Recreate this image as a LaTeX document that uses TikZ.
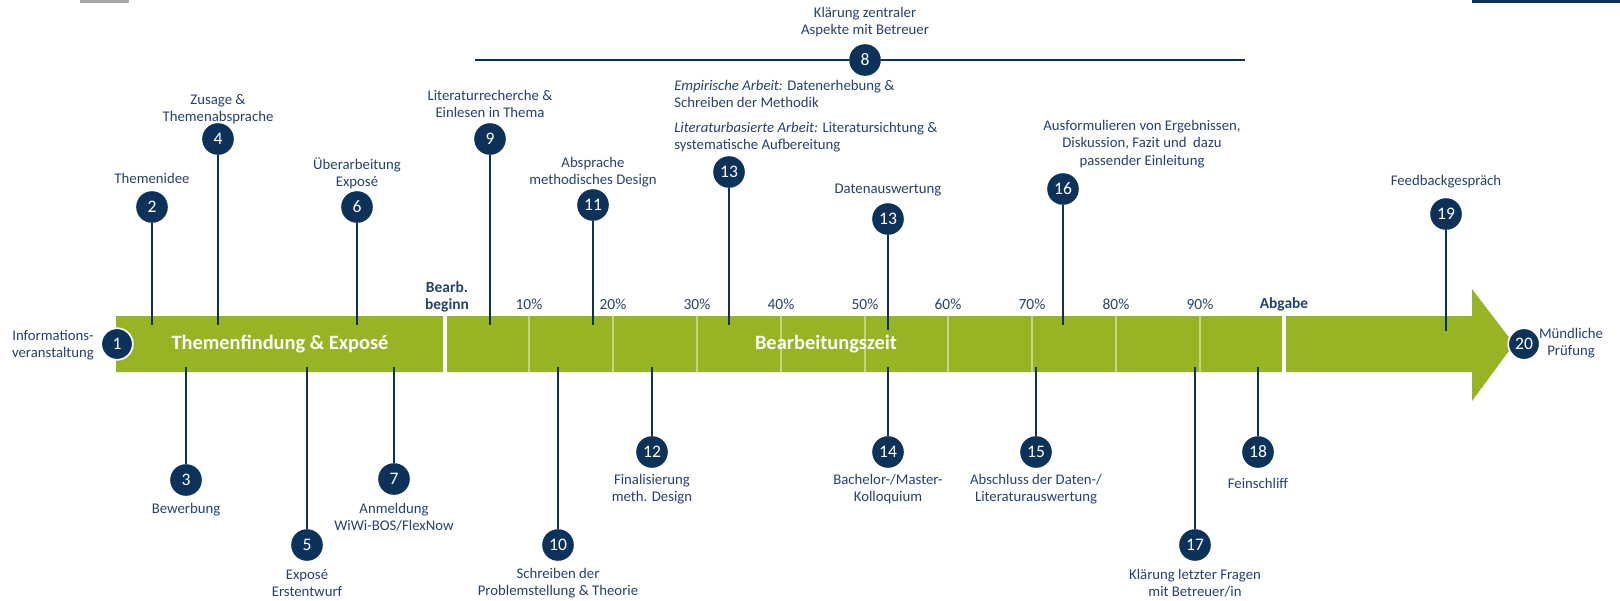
\documentclass[tikz,border=0pt]{standalone}
\usepackage{fontspec}
\setmainfont{Carlito}
\definecolor{barGreen}{RGB}{150,180,35}
\definecolor{navy}{RGB}{12,50,90}
\definecolor{txtBlue}{RGB}{38,66,108}
\definecolor{tickGreen}{RGB}{196,214,130}

\begin{document}
\begin{tikzpicture}[x=0.025cm,y=-0.025cm,
	num/.style={circle, fill=navy, text=white, minimum size=0.79cm, inner sep=0pt, font=\fontsize{12.5}{14}\selectfont},
	endnum/.style={num, draw=white, line width=1.2pt},
	lbl/.style={text=txtBlue, align=center, inner sep=0pt, font=\fontsize{10.5}{12.4}\selectfont},
	pct/.style={text=txtBlue, inner sep=0pt, font=\fontsize{11}{13}\selectfont},
	bold/.style={text=txtBlue, align=center, inner sep=0pt, font=\fontsize{11}{12.6}\selectfont\bfseries},
	phase/.style={text=white, inner sep=0pt, font=\fontsize{14.5}{17}\selectfont\bfseries},
	stem/.style={draw=navy, line width=1.4pt}]
	\useasboundingbox (0,0) rectangle (1620,600);

	% bits cut off at the top edge
	\fill[gray!70] (80,0) rectangle (129,2.5);
	\fill[navy] (1472,0) rectangle (1620,2.5);

	% the green arrow
	\fill[barGreen] (116,316) -- (1472,316) -- (1472,289) -- (1514,344) -- (1472,401) -- (1472,372) -- (116,372) -- cycle;
	\draw[tickGreen, line width=0.9pt] (529,316) -- (529,372);
	\draw[tickGreen, line width=0.9pt] (613,316) -- (613,372);
	\draw[tickGreen, line width=0.9pt] (697,316) -- (697,372);
	\draw[tickGreen, line width=0.9pt] (781,316) -- (781,372);
	\draw[tickGreen, line width=0.9pt] (865,316) -- (865,372);
	\draw[tickGreen, line width=0.9pt] (948,316) -- (948,372);
	\draw[tickGreen, line width=0.9pt] (1032,316) -- (1032,372);
	\draw[tickGreen, line width=0.9pt] (1116,316) -- (1116,372);
	\draw[tickGreen, line width=0.9pt] (1200,316) -- (1200,372);
	\draw[white, line width=3pt] (445,314) -- (445,374);
	\draw[white, line width=3pt] (1284,314) -- (1284,374);

	\node[phase](ph1) at (280,344) {Themenfindung \& Exposé};
	\node[phase](ph2) at (826,344) {Bearbeitungszeit};

	\node[bold](start) at (447,297) {Bearb.\\beginn};
	\node[bold](end) at (1284,304) {Abgabe};
	\node[pct](p10) at (529,304) {10\%};
	\node[pct](p20) at (613,304) {20\%};
	\node[pct](p30) at (697,304) {30\%};
	\node[pct](p40) at (781,304) {40\%};
	\node[pct](p50) at (865,304) {50\%};
	\node[pct](p60) at (948,304) {60\%};
	\node[pct](p70) at (1032,304) {70\%};
	\node[pct](p80) at (1116,304) {80\%};
	\node[pct](p90) at (1200,304) {90\%};

	% numbered steps
	\node[endnum](c1) at (117,344) {1};
	\node[num](c2) at (152,207) {2};
	\node[num](c3) at (186,480) {3};
	\node[num](c4) at (218,139) {4};
	\node[num](c5) at (307,545) {5};
	\node[num](c6) at (357,207) {6};
	\node[num](c7) at (394,479) {7};
	\node[num](c8) at (865,60) {8};
	\node[num](c9) at (490,139) {9};
	\node[num](c10) at (558,545) {10};
	\node[num](c11) at (593,205) {11};
	\node[num](c12) at (652,452) {12};
	\node[num](c13) at (729,172) {13};
	\node[num](c13b) at (888,219) {13};
	\node[num](c14) at (888,452) {14};
	\node[num](c15) at (1036,452) {15};
	\node[num](c16) at (1063,189) {16};
	\node[num](c17) at (1195,545) {17};
	\node[num](c18) at (1258,452) {18};
	\node[num](c19) at (1446,214) {19};
	\node[endnum](c20) at (1524,344) {20};

	% stem ends on the arrow
	\coordinate(s2) at (152,325);
	\coordinate(s3) at (186,367);
	\coordinate(s4) at (218,325);
	\coordinate(s5) at (307,367);
	\coordinate(s6) at (357,325);
	\coordinate(s7) at (394,367);
	\coordinate(s8a) at (475,60);
	\coordinate(s8b) at (1245,60);
	\coordinate(s9) at (490,325);
	\coordinate(s10) at (558,367);
	\coordinate(s11) at (593,325);
	\coordinate(s12) at (652,367);
	\coordinate(s13) at (729,325);
	\coordinate(s13b) at (888,330);
	\coordinate(s14) at (888,367);
	\coordinate(s15) at (1036,367);
	\coordinate(s16) at (1063,325);
	\coordinate(s17) at (1195,367);
	\coordinate(s18) at (1258,367);
	\coordinate(s19) at (1446,331);

	\draw[stem](c2) -- (s2);
	\draw[stem](c3) -- (s3);
	\draw[stem](c4) -- (s4);
	\draw[stem](c5) -- (s5);
	\draw[stem](c6) -- (s6);
	\draw[stem](c7) -- (s7);
	\draw[stem](c8) -- (s8a);
	\draw[stem](c8) -- (s8b);
	\draw[stem](c9) -- (s9);
	\draw[stem](c10) -- (s10);
	\draw[stem](c11) -- (s11);
	\draw[stem](c12) -- (s12);
	\draw[stem](c13) -- (s13);
	\draw[stem](c13b) -- (s13b);
	\draw[stem](c14) -- (s14);
	\draw[stem](c15) -- (s15);
	\draw[stem](c16) -- (s16);
	\draw[stem](c17) -- (s17);
	\draw[stem](c18) -- (s18);
	\draw[stem](c19) -- (s19);

	% step texts
	\node[lbl](l1) at (53,345) {Informations-\\veranstaltung};
	\node[lbl](l2) at (152,178) {Themenidee};
	\node[lbl](l3) at (186,510) {Bewerbung};
	\node[lbl](l4) at (218,109) {Zusage \&\\Themenabsprache};
	\node[lbl](l5) at (307,583) {Exposé\\Erstentwurf};
	\node[lbl](l6) at (357,173) {Überarbeitung\\Exposé};
	\node[lbl](l7) at (394,517) {Anmeldung\\WiWi-BOS/FlexNow};
	\node[lbl](l8) at (865,22) {Klärung zentraler\\Aspekte mit Betreuer};
	\node[lbl](l9) at (490,104) {Literaturrecherche \&\\Einlesen in Thema};
	\node[lbl](l10) at (558,583) {Schreiben der\\Problemstellung \& Theorie};
	\node[lbl](l11) at (593,172) {Absprache\\methodisches Design};
	\node[lbl](l12) at (652,489) {Finalisierung\\meth. Design};
	\node[lbl, align=left, anchor=west](l13) at (674,116) {\textit{Empirische Arbeit:} Datenerhebung \&\\Schreiben der Methodik\\[5pt]\textit{Literaturbasierte Arbeit:} Literatursichtung \&\\systematische Aufbereitung};
	\node[lbl](l13b) at (888,190) {Datenauswertung};
	\node[lbl](l14) at (888,489) {Bachelor-/Master-\\Kolloquium};
	\node[lbl](l15) at (1036,489) {Abschluss der Daten-/\\Literaturauswertung};
	\node[lbl](l16) at (1142,144) {Ausformulieren von Ergebnissen,\\Diskussion, Fazit und\ \ dazu\\passender Einleitung};
	\node[lbl](l17) at (1195,583) {Klärung letzter Fragen\\mit Betreuer/in};
	\node[lbl](l18) at (1258,483) {Feinschliff};
	\node[lbl](l19) at (1446,182) {Feedbackgespräch};
	\node[lbl](l20) at (1571,343) {Mündliche\\Prüfung};
\end{tikzpicture}
\end{document}
